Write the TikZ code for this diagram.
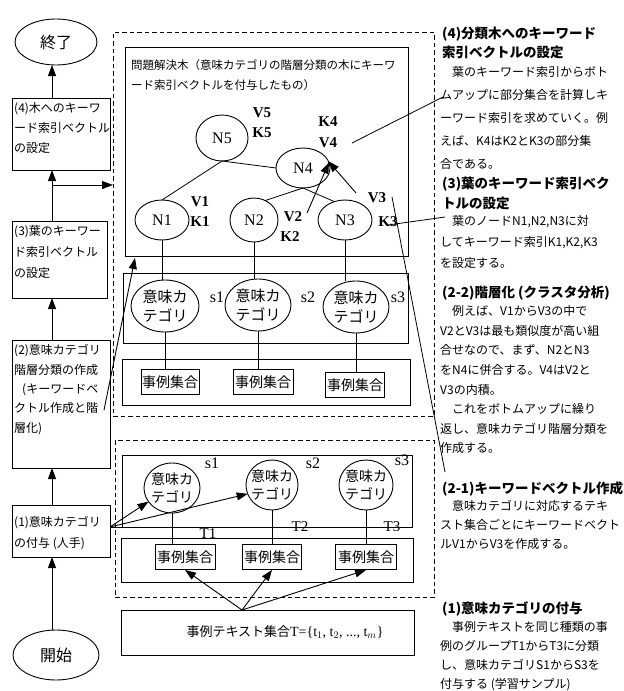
\documentclass[tikz,border=0pt]{standalone}
\usepackage{fontspec}
\newfontfamily\jp{Noto Sans CJK JP}
\newfontfamily\lat{Liberation Serif}
\usetikzlibrary{arrows.meta,shapes.geometric}
\begin{document}
\begin{tikzpicture}[x=1pt,y=-1pt,
 box/.style={draw,line width=0.9pt,rectangle,anchor=north west,inner sep=0,outer sep=0},
 dbox/.style={draw,line width=0.9pt,dash pattern=on 4.5pt off 3pt,rectangle,anchor=north west,inner sep=0,outer sep=0},
 ell/.style={draw,line width=0.9pt,ellipse,inner sep=0,outer sep=0},
 arr/.style={line width=0.9pt,-{Triangle[length=11pt,width=8pt]}},
 ln/.style={line width=0.8pt},
 lbl/.style={font=\lat\fontsize{15}{15}\selectfont,inner sep=0},
 bl/.style={font=\lat\bfseries\fontsize{15}{15}\selectfont,inner sep=0},
 nl/.style={font=\lat\fontsize{16}{16}\selectfont,inner sep=0},
 tx/.style={inner sep=0,anchor=north west,align=left},
 cat/.style={inner sep=0,align=center,font=\jp\fontsize{15}{19}\selectfont},
 catl/.style={inner sep=0,align=center,font=\jp\fontsize{14}{18}\selectfont},
 case/.style={draw,line width=0.9pt,rectangle,inner sep=0,minimum height=25,font=\jp\fontsize{14}{14}\selectfont},
]
\useasboundingbox (0,0) rectangle (624,691);

% ---------- left column ----------
\node[ell,minimum width=82,minimum height=46] (end) at (56,42) {};
\node[font=\jp\fontsize{16}{16}\selectfont,inner sep=0] (endt) at (end) {終了};
\node[box,minimum width=98,minimum height=72] (b4) at (12,98) {};
\node[tx,font=\jp\fontsize{12}{20}\selectfont] (b4t) at (14,102.5) {(4)木へのキーワ\\ード索引ベクトル\\の設定};
\node[box,minimum width=95,minimum height=77] (b3) at (12,221) {};
\node[tx,font=\jp\fontsize{12}{21}\selectfont] (b3t) at (14,225.5) {(3)葉のキーワー\\ド索引ベクトル\\の設定};
\node[box,minimum width=98,minimum height=128] (b2) at (12,340) {};
\node[tx,font=\jp\fontsize{12}{19.3}\selectfont] (b2t) at (14,344.5) {(2)意味カテゴリ\\階層分類の作成\\\hspace{8pt}(キーワードベ\\クトル作成と階\\層化)};
\node[box,minimum width=98,minimum height=52] (b1) at (12,505) {};
\node[tx,font=\jp\fontsize{12}{21}\selectfont] (b1t) at (14,516.5) {(1)意味カテゴリ\\の付与 (人手)};
\node[ell,minimum width=86,minimum height=50] (start) at (56,655) {};
\node[font=\jp\fontsize{16}{16}\selectfont,inner sep=0] (startt) at (start) {開始};

\coordinate (ax) at (52,0);
\draw[arr] (start.north -| ax) -- (b1.south -| ax);
\draw[arr] (b1.north -| ax) -- (b2.south -| ax);
\draw[arr] (b2.north -| ax) -- (b3.south -| ax);
\draw[arr] (b3.north -| ax) -- (b4.south -| ax);
\draw[arr] (b4.north -| ax) -- (end.south -| ax);

% ---------- dashed frames ----------
\node[dbox,minimum width=321,minimum height=384] (up) at (113,32) {};
\node[dbox,minimum width=319,minimum height=157] (lo) at (115,440) {};
\coordinate (hb) at (52,185);
\draw[arr] (hb) -- (hb -| up.west);

% ---------- tree box ----------
\node[box,minimum width=283,minimum height=209] (tb) at (125,47) {};
\node[tx,font=\jp\fontsize{11.5}{20}\selectfont] (tt) at (131,59.5) {問題解決木（意味カテゴリの階層分類の木にキーワ\\ード索引ベクトルを付与したもの）};

\node[ell,minimum width=52,minimum height=46] (N5) at (222,138) {};
\node[nl] (N5t) at (N5) {N5};
\node[ell,minimum width=54,minimum height=40] (N4) at (303,168) {};
\node[nl] (N4t) at (N4) {N4};
\node[ell,minimum width=54,minimum height=40] (N1) at (162,220) {};
\node[nl] (N1t) at (N1) {N1};
\node[ell,minimum width=48,minimum height=44] (N2) at (254,220) {};
\node[nl] (N2t) at (N2) {N2};
\node[ell,minimum width=54,minimum height=40] (N3) at (345,220) {};
\node[nl] (N3t) at (N3) {N3};

\node[bl] (V5) at (262,113) {V5};
\node[bl] (K5) at (262,133) {K5};
\node[bl] (K4) at (328,122) {K4};
\node[bl] (V4) at (328,143) {V4};
\node[bl] (V1) at (200,202) {V1};
\node[bl] (K1) at (200,222) {K1};
\node[bl] (V2) at (293,217) {V2};
\node[bl] (K2) at (290,237) {K2};
\node[bl] (V3) at (377,198) {V3};
\node[bl] (K3) at (388,222) {K3};

\draw[ln] (N5.south) -- (N1.north);
\draw[ln] (N5.south) -- (N4.west);
\draw[ln] (N4.south) -- (N2.60);
\draw[ln] (N4.south) -- (N3.120);
\coordinate (a1) at (307,213);
\coordinate (a2) at (356,193);
\draw[arr] (a1) -- (N4.12);
\draw[arr] (a2) -- (N4.15);

% ---------- upper category / case boxes ----------
\node[box,minimum width=285,minimum height=70] (cu) at (123,273) {};
\node[box,minimum width=288,minimum height=46] (eu) at (122,359) {};
\node[ell,minimum width=68,minimum height=52] (c1) at (165,306) {};
\node[cat] (c1t) at (c1) {意味カ\\テゴリ};
\node[ell,minimum width=66,minimum height=52] (c2) at (258,305) {};
\node[cat] (c2t) at (c2) {意味カ\\テゴリ};
\node[ell,minimum width=66,minimum height=52] (c3) at (356,307) {};
\node[cat] (c3t) at (c3) {意味カ\\テゴリ};
\node[lbl,font=\lat\fontsize{16}{16}\selectfont] (s1u) at (217,297) {s1};
\node[lbl,font=\lat\fontsize{16}{16}\selectfont] (s2u) at (308,297) {s2};
\node[lbl,font=\lat\fontsize{16}{16}\selectfont] (s3u) at (398,297) {s3};
\node[case,minimum width=58] (e1) at (170,382) {事例集合};
\node[case,minimum width=60] (e2) at (263,382) {事例集合};
\node[case,minimum width=59] (e3) at (355,385) {事例集合};
\draw[ln] (N1.south) -- (N1.south |- c1.north);
\draw[ln] (N2.south) -- (N2.south |- c2.north);
\draw[ln] (N3.south) -- (N3.south |- c3.north);
\draw[ln] (c1.south) -- (c1.south |- e1.north);
\draw[ln] (c2.south) -- (c2.south |- e2.north);
\draw[ln] (c3.south) -- (c3.south |- e3.north);

\coordinate (p2s) at (104,410);
\coordinate (tbt) at (135,258);
\draw[arr] (p2s) -- (tbt);

% ---------- lower section ----------
\node[box,minimum width=290,minimum height=72] (lc) at (122,455) {};
\node[box,minimum width=292,minimum height=44] (le) at (121,538) {};
\node[ell,minimum width=56,minimum height=50] (d1) at (172,488) {};
\node[catl] (d1t) at (d1) {意味カ\\テゴリ};
\node[ell,minimum width=52,minimum height=50] (d2) at (272,485) {};
\node[catl] (d2t) at (d2) {意味カ\\テゴリ};
\node[ell,minimum width=54,minimum height=50] (d3) at (366,485) {};
\node[catl] (d3t) at (d3) {意味カ\\テゴリ};
\node[lbl,font=\lat\fontsize{16}{16}\selectfont] (s1l) at (212,463) {s1};
\node[lbl,font=\lat\fontsize{16}{16}\selectfont] (s2l) at (313,463) {s2};
\node[lbl,font=\lat\fontsize{16}{16}\selectfont] (s3l) at (402,460) {s3};
\node[case,minimum width=60] (f1) at (185,557) {事例集合};
\node[case,minimum width=59] (f2) at (272,557) {事例集合};
\node[case,minimum width=61] (f3) at (366,557) {事例集合};
\draw[ln] (d1.south) -- (d1.south |- f1.north);
\draw[ln] (d2.south) -- (d2.south |- f2.north);
\draw[ln] (d3.south) -- (d3.south |- f3.north);
\node[lbl] (T1) at (208,534) {T1};
\node[lbl] (T2) at (300,527) {T2};
\node[lbl] (T3) at (392,527) {T3};

\draw[ln] (b1.east |- lc.south) -- (lc.south west);
\draw[arr] (b1.east |- lc.south) -- (d1.210);
\draw[arr] (b1.east |- lc.south) -- (d2.200);

\node[box,minimum width=293,minimum height=45] (bt) at (121,610) {};
\node[inner sep=0] (btt) at (285,632) {{\jp\fontsize{13}{13}\selectfont 事例テキスト集合}{\lat\fontsize{14}{14}\selectfont T=\{t$_1$, t$_2$, ..., t$_m$\}}};
\coordinate (bs) at (242,610);
\draw[arr] (bs) -- (f1.south);
\draw[arr] (bs) -- (f2.south);
\draw[arr] (bs) -- (f3.south);

% ---------- right column ----------
\node[tx,font=\jp\bfseries\fontsize{13.5}{19}\selectfont] (h4) at (442,26.5) {(4)分類木へのキーワード\\索引ベクトルの設定};
\node[tx,font=\jp\fontsize{12}{23}\selectfont] (p4) at (440,66.5) {　葉のキーワード索引からボト\\ムアップに部分集合を計算しキ\\ーワード索引を求めていく。例\\えば、K4はK2とK3の部分集\\合である。};
\node[tx,font=\jp\bfseries\fontsize{13.5}{20}\selectfont] (h3) at (442,176.5) {(3)葉のキーワード索引ベク\\トルの設定};
\node[tx,font=\jp\fontsize{12}{21}\selectfont] (p3) at (440,215.5) {　葉のノードN1,N2,N3に対\\してキーワード索引K1,K2,K3\\を設定する。};
\node[tx,font=\jp\bfseries\fontsize{13.5}{20}\selectfont] (h22) at (442,285.5) {(2-2)階層化 (クラスタ分析)};
\node[tx,font=\jp\fontsize{12}{19.6}\selectfont] (p22) at (440,305.5) {　例えば、V1からV3の中で\\V2とV3は最も類似度が高い組\\合せなので、まず、N2とN3\\をN4に併合する。V4はV2と\\V3の内積。\\　これをボトムアップに繰り\\返し、意味カテゴリ階層分類を\\作成する。};
\node[tx,font=\jp\bfseries\fontsize{13.5}{20}\selectfont] (h21) at (442,481.5) {(2-1)キーワードベクトル作成};
\node[tx,font=\jp\fontsize{12}{19}\selectfont] (p21) at (440,500.5) {　意味カテゴリに対応するテキ\\スト集合ごとにキーワードベクト\\ルV1からV3を作成する。};
\node[tx,font=\jp\bfseries\fontsize{13.5}{20}\selectfont] (h1) at (442,601.5) {(1)意味カテゴリの付与};
\node[tx,font=\jp\fontsize{12}{19}\selectfont] (p1) at (440,621.5) {　事例テキストを同じ種類の事\\例のグループT1からT3に分類\\し、意味カテゴリS1からS3を\\付与する (学習サンプル)};

\coordinate (q4a) at (352,143);
\coordinate (q4b) at (443,97);
\coordinate (q3a) at (388,225);
\coordinate (q3b) at (445,217);
\coordinate (q2a) at (392,197);
\coordinate (q2b) at (445,472);
\draw[ln] (q4a) -- (q4b);
\draw[ln] (q3a) -- (q3b);
\draw[ln] (q2a) -- (q2b);
\end{tikzpicture}
\end{document}
